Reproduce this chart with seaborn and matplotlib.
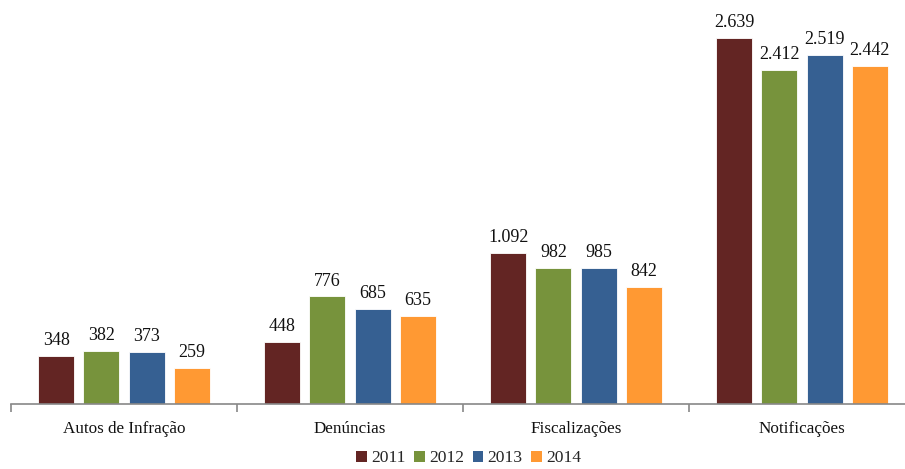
import matplotlib
matplotlib.use("Agg")
import matplotlib.pyplot as plt
import seaborn as sns
import pandas as pd
from matplotlib.patches import Patch

categories = ["Autos de Infração", "Denúncias", "Fiscalizações", "Notificações"]
years = ["2011", "2012", "2013", "2014"]
v2011 = [348, 448, 1092, 2639]
v2012 = [382, 776, 982, 2412]
v2013 = [373, 685, 985, 2519]
v2014 = [259, 635, 842, 2442]
colors = ["#632523", "#77933C", "#366092", "#FF9933"]

rows = []
for yr, vals in zip(years, [v2011, v2012, v2013, v2014]):
    for c, v in zip(categories, vals):
        rows.append({"Categoria": c, "Ano": yr, "Valor": v})
df = pd.DataFrame(rows)

sns.set_theme(style="white")
plt.rcParams["font.family"] = ["Liberation Serif", "DejaVu Serif"]

fig = plt.figure(figsize=(9.05, 4.69), dpi=100)
ax = fig.add_axes([11/905, 65/469, 904/905, 388/469])

sns.barplot(data=df, x="Categoria", y="Valor", hue="Ano", palette=colors,
            order=categories, hue_order=years, width=0.8, gap=0.2,
            saturation=1, edgecolor="white", linewidth=0.6, ax=ax, legend=False)

def fmt(v):
    return f"{v:,}".replace(",", ".")

for cont in ax.containers:
    ax.bar_label(cont, labels=[fmt(int(b.get_height())) for b in cont],
                 padding=5, fontsize=13, color="#111111")

ax.set_xlim(-0.5, 3.5)
ax.set_ylim(0, 2800)
ax.set_xlabel("")
ax.set_ylabel("")
ax.set_yticks([])
for s in ["top", "right", "left"]:
    ax.spines[s].set_visible(False)
ax.spines["bottom"].set_color("#888888")
ax.spines["bottom"].set_linewidth(1.2)
ax.set_xticks([-0.5, 0.5, 1.5, 2.5, 3.5], minor=True)
ax.tick_params(axis="x", which="minor", length=6, width=1.2, color="#888888", direction="out", bottom=True)
ax.tick_params(axis="x", which="major", length=0, pad=12.5, labelsize=12.3, labelcolor="#111111")

handles = [Patch(facecolor=c, edgecolor="none") for c in colors]
fig.legend(handles, years, loc="lower center", bbox_to_anchor=(0.518, -0.028), ncol=4,
           frameon=False, fontsize=12.6, handlelength=0.6, handleheight=0.6,
           handletextpad=0.25, columnspacing=0.5)

fig.savefig("out.png", dpi=100)
